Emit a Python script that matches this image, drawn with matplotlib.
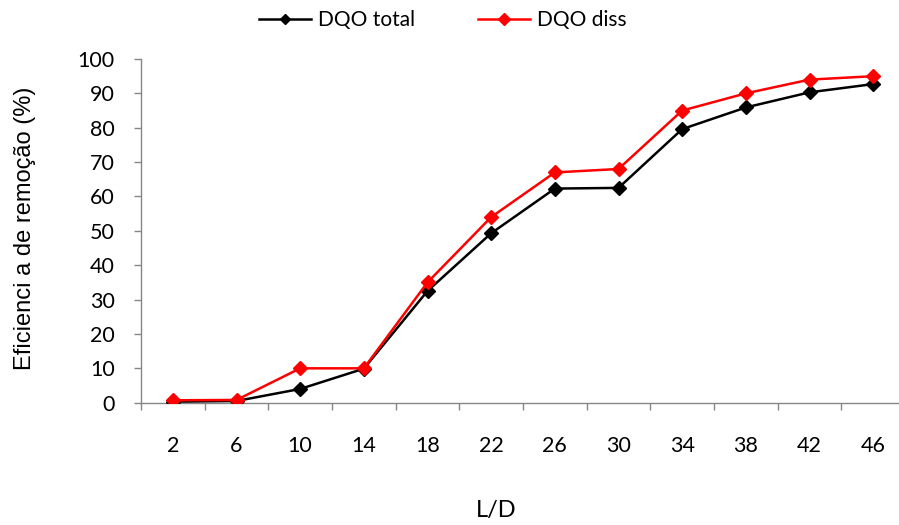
import matplotlib
matplotlib.use("Agg")
import matplotlib.pyplot as plt
import numpy as np

# L/D ratios and COD removal efficiencies (%)
ld_ratios = ["2", "6", "10", "14", "18", "22", "26", "30", "34", "38", "42", "46"]
dqo_total = [0.3, 0.5, 4.0, 9.9, 32.5, 49.3, 62.3, 62.5, 79.6, 85.9, 90.3, 92.7]
dqo_diss = [0.7, 0.8, 10.0, 10.0, 35.0, 54.0, 67.0, 68.0, 85.0, 90.0, 94.0, 95.0]

W, H = 899, 525
fig = plt.figure(figsize=(W / 100, H / 100), dpi=100)
ax = fig.add_axes([141 / W, (H - 402.7) / H, 764 / W, (402.7 - 59) / H])

x = np.arange(len(ld_ratios))
ax.plot(x, dqo_total, color="black", lw=1.8, marker="D", ms=7,
        label="DQO total", zorder=3)
ax.plot(x, dqo_diss, color="#ff0000", lw=1.8, marker="D", ms=7.5,
        label="DQO diss", zorder=4)

ax.set_xlim(-0.5, len(ld_ratios) - 0.5)
ax.set_ylim(0, 100)

axis_grey = "#868686"
font = "Lato"

ax.set_yticks(np.arange(0, 101, 10))
ax.set_xticks(x)
ax.set_xticklabels(ld_ratios)
ax.set_xticks(np.arange(-0.5, len(ld_ratios)), minor=True)

ax.tick_params(axis="y", which="major", direction="out", length=5, width=1,
               color=axis_grey, pad=14, labelsize=15.5)
ax.tick_params(axis="x", which="major", length=0, pad=24, labelsize=15.5)
ax.tick_params(axis="x", which="minor", direction="out", length=5, width=1,
               color=axis_grey)
for lbl in ax.get_xticklabels() + ax.get_yticklabels():
    lbl.set_fontfamily(font)

for side in ("top", "right"):
    ax.spines[side].set_visible(False)
for side in ("left", "bottom"):
    ax.spines[side].set_color(axis_grey)
    ax.spines[side].set_linewidth(1)

fig.text(25 / W, 1 - 228 / H, "Eficienci a de remoção (%)", rotation=90,
         ha="center", va="center", fontsize=17, family="Liberation Sans")
fig.text(496 / W, 1 - 511 / H, "L/D", ha="center", va="center",
         fontsize=17, family=font)

fig.legend(loc="center", bbox_to_anchor=(443 / W, 1 - 20 / H), ncol=2,
           frameon=False, prop={"family": font, "size": 15},
           handlelength=2.5, handletextpad=0.35, columnspacing=3.0,
           markerscale=0.8)

fig.savefig("out.png", dpi=100)
